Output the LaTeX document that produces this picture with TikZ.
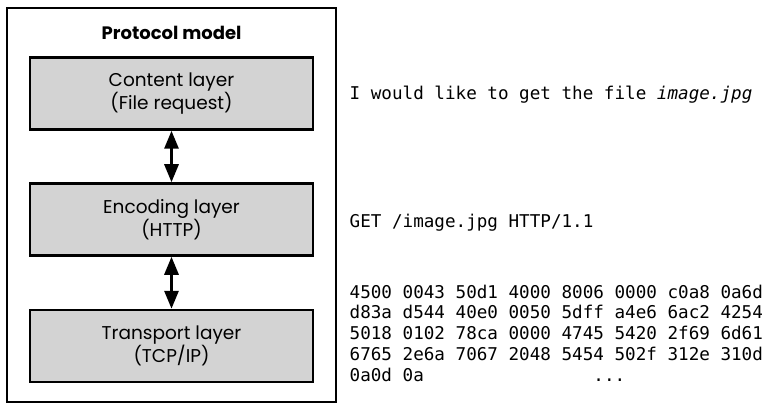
\documentclass[tikz,border=0pt]{standalone}
\usepackage{fontspec}
\setmainfont{Poppins}
\newfontfamily\monof{DejaVu Sans Mono}
\usetikzlibrary{arrows.meta}
\definecolor{boxgray}{HTML}{D3D3D3}
\tikzset{
  layerbox/.style={draw=black, line width=2.5pt, fill=boxgray, minimum width=283pt, minimum height=72pt,
    align=center, inner sep=0pt, font=\fontsize{18.5}{23}\selectfont},
  outerbox/.style={draw=black, line width=2pt, minimum width=329pt, minimum height=394pt, inner sep=0pt},
  dblarrow/.style={line width=3pt, {Triangle[width=14pt,length=18pt]}-{Triangle[width=14pt,length=18pt]}},
  codetext/.style={anchor=base west, inner sep=0pt, font=\monof\fontsize{17.6}{20}\selectfont},
}
\begin{document}
\begin{tikzpicture}[x=1pt,y=-1pt]
\useasboundingbox (0,0) rectangle (767,403);
\node[outerbox] (outer) at (171.5,205) {};
\node[anchor=base, inner sep=0pt, font=\bfseries\fontsize{18}{20}\selectfont] (title) at (171.5,40) {Protocol model};
\node[layerbox] (content) at (171.5,93.5) {Content layer\\(File request)};
\node[layerbox] (encoding) at (171.5,219.5) {Encoding layer\\(HTTP)};
\node[layerbox] (transport) at (171.5,346) {Transport layer\\(TCP/IP)};
\draw[dblarrow] (content.south) -- (encoding.north);
\draw[dblarrow] (encoding.south) -- (transport.north);
\node[codetext] (req) at (349.5,100) {I would like to get the file \textit{image.jpg}};
\node[codetext] (get) at (349.5,227) {GET /image.jpg HTTP/1.1};
\node[codetext] (hexa) at (349.5,298) {4500 0043 50d1 4000 8006 0000 c0a8 0a6d};
\node[codetext] (hexb) at (349.5,318.8) {d83a d544 40e0 0050 5dff a4e6 6ac2 4254};
\node[codetext] (hexc) at (349.5,339.6) {5018 0102 78ca 0000 4745 5420 2f69 6d61};
\node[codetext] (hexd) at (349.5,360.4) {6765 2e6a 7067 2048 5454 502f 312e 310d};
\node[codetext] (hexe) at (349.5,381.2) {0a0d 0a\phantom{0000000000000000}...};
\end{tikzpicture}
\end{document}
